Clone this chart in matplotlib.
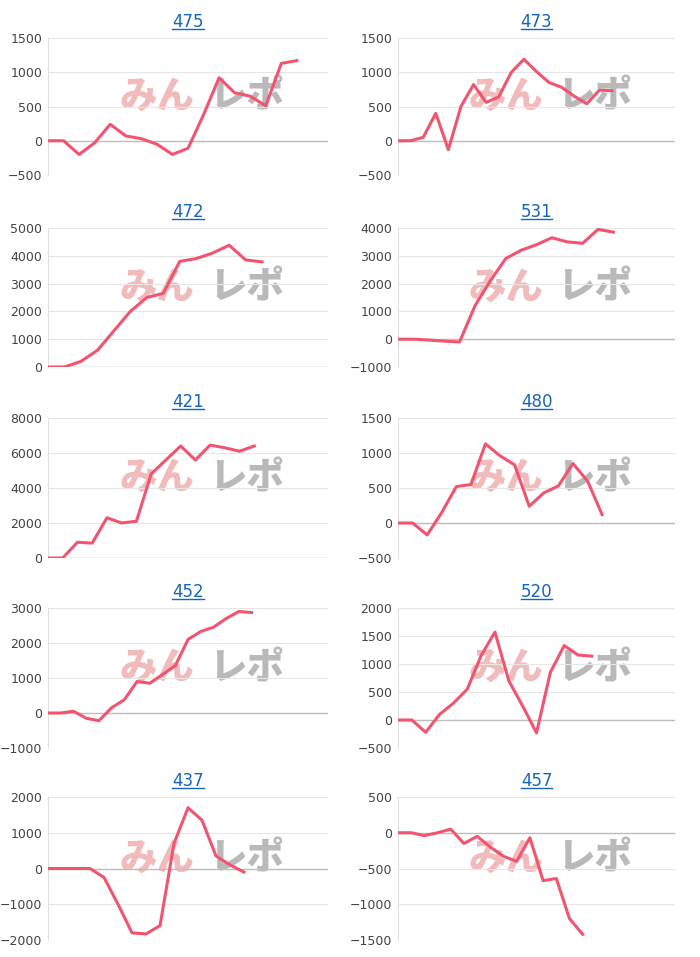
import matplotlib
matplotlib.use("Agg")
import matplotlib.pyplot as plt

titles = ["475", "473", "472", "531", "421", "480", "452", "520", "437", "457"]
s475 = [0, 0, -200, -30, 240, 70, 30, -50, -200, -110, 380, 920, 700, 650, 510, 1130, 1170]
s473 = [0, 0, 50, 400, -130, 500, 820, 560, 640, 1000, 1190, 1010, 850, 780, 650, 540, 740, 730]
s472 = [0, 0, 200, 600, 1300, 2000, 2500, 2650, 3800, 3900, 4100, 4380, 3850, 3780]
s531 = [0, 0, -30, -70, -100, 1200, 2100, 2900, 3200, 3400, 3650, 3500, 3450, 3950, 3850]
s421 = [0, 0, 900, 850, 2300, 2000, 2100, 4800, 5600, 6400, 5600, 6450, 6300, 6100, 6400]
s480 = [0, 0, -170, 150, 520, 550, 1130, 960, 830, 240, 430, 530, 850, 600, 120]
s452 = [0, 0, 50, -150, -220, 150, 380, 900, 850, 1100, 1350, 2100, 2330, 2450, 2700, 2900, 2870]
s520 = [0, 0, -220, 100, 300, 550, 1150, 1570, 700, 250, -230, 850, 1330, 1160, 1140]
s437 = [0, 0, 0, 0, -250, -1000, -1800, -1830, -1600, 700, 1700, 1350, 350, 100, -100]
s457 = [0, 0, -40, 0, 50, -150, -50, -200, -330, -400, -70, -670, -640, -1200, -1420]
series = [s475, s473, s472, s531, s421, s480, s452, s520, s437, s457]
xmax = [18, 22, 17, 18, 19, 19, 22, 20, 20, 21]
ylims = [(-500, 1500, 500), (-500, 1500, 500), (0, 5000, 1000), (-1000, 4000, 1000),
         (0, 8000, 2000), (-500, 1500, 500), (-1000, 3000, 1000), (-500, 2000, 500),
         (-2000, 2000, 1000), (-1500, 500, 500)]

W, H = 700, 957
fig = plt.figure(figsize=(7, 9.57), dpi=100)
cols = [(48, 328), (398, 675)]
rows = [(38, 175), (228, 367), (418, 558), (608, 748), (797, 940)]
axes = []
for i, (t, s) in enumerate(zip(titles, series)):
    r, c = divmod(i, 2)
    x0, x1 = cols[c]
    y0, y1 = rows[r]
    ax = fig.add_axes([x0 / W, 1 - y1 / H, (x1 - x0) / W, (y1 - y0) / H])
    axes.append(ax)
    lo, hi, st = ylims[i]
    ax.set_ylim(lo, hi)
    ax.set_xlim(0, xmax[i])
    ax.set_yticks(range(lo, hi + 1, st))
    ax.set_xticks([])
    ax.grid(axis="y", color="#e6e6e6", lw=0.8)
    ax.axhline(0, color="#bdbdbd", lw=1, zorder=1)
    for sp in ["top", "right", "bottom"]:
        ax.spines[sp].set_visible(False)
    ax.spines["left"].set_color("#e0e0e0")
    ax.tick_params(axis="y", length=0, labelsize=9, colors="#444444", pad=4)
    ax.set_axisbelow(True)
    ax.text(0.39, 0.57, "みん", transform=ax.transAxes, fontsize=27, fontweight="heavy",
            style="italic", color="#eea4a4", alpha=0.75, ha="center", va="center",
            family=["Noto Sans CJK JP"], zorder=0)
    ax.text(0.71, 0.57, "レポ", transform=ax.transAxes, fontsize=27, fontweight="heavy",
            style="italic", color="#a8a8a8", alpha=0.8, ha="center", va="center",
            family=["Noto Sans CJK JP"], zorder=0)
    ax.plot(range(len(s)), s, color="#f2546f", lw=2.2, zorder=3)
    ax.set_title(t, fontsize=12, color="#1565c0", pad=8)

fig.canvas.draw()
for ax in axes:
    bb = ax.title.get_window_extent()
    fy = (bb.y0 + 2) / H
    fig.add_artist(plt.Line2D([bb.x0 / W, bb.x1 / W], [fy, fy], color="#1565c0", lw=1))

fig.savefig("out.png", dpi=100)
